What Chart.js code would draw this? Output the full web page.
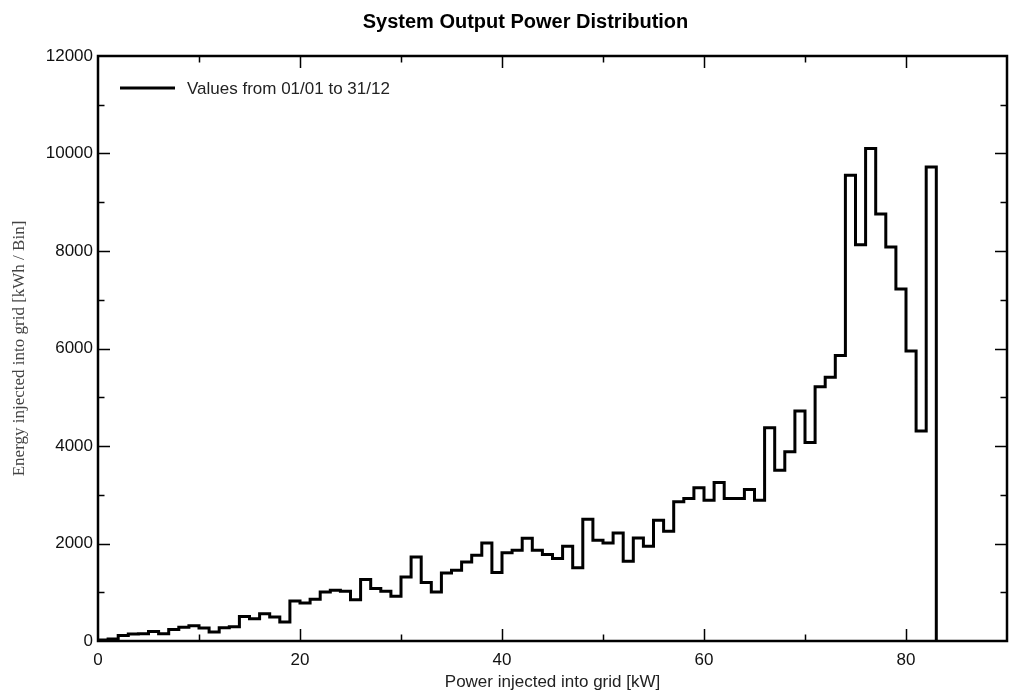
<!DOCTYPE html>
<html>
<head>
<meta charset="utf-8">
<script src="https://cdn.jsdelivr.net/npm/chart.js@4.4.1/dist/chart.umd.min.js"></script>
<style>
  html, body { margin: 0; padding: 0; background: #fff; }
  #wrap { width: 1009px; height: 694px; }
</style>
</head>
<body>
<div id="wrap"><canvas id="powerChart"></canvas></div>
<script>
// bin edges in kW (1 kW bins), last edge closes the final bin
const binEdges = [0, 1, 2, 3, 4, 5, 6, 7, 8, 9, 10, 11, 12, 13, 14, 15, 16, 17, 18, 19, 20,
  21, 22, 23, 24, 25, 26, 27, 28, 29, 30, 31, 32, 33, 34, 35, 36, 37, 38, 39, 40,
  41, 42, 43, 44, 45, 46, 47, 48, 49, 50, 51, 52, 53, 54, 55, 56, 57, 58, 59, 60,
  61, 62, 63, 64, 65, 66, 67, 68, 69, 70, 71, 72, 73, 74, 75, 76, 77, 78, 79, 80,
  81, 82, 83];
// energy per bin [kWh / Bin]
const energyPerBin = [20, 40, 115, 145, 150, 197, 150, 238, 280, 314,
  265, 183, 270, 290, 505, 458, 560, 492, 389, 820,
  780, 855, 1005, 1040, 1020, 848, 1260, 1075, 1020, 916,
  1313, 1724, 1198, 1005, 1396, 1450, 1621, 1759, 2012, 1403,
  1810, 1862, 2108, 1862, 1773, 1690, 1944, 1505, 2498, 2067,
  2012, 2217, 1635, 2115, 1944, 2478, 2252, 2854, 2924, 3142,
  2889, 3253, 2924, 2924, 3109, 2889, 4375, 3505, 3881, 4717,
  4074, 5217, 5410, 5854, 9552, 8128, 10101, 8759, 8080, 7218,
  5950, 4307, 9724];
const xTicks = [0, 20, 40, 60, 80];
const yTicks = [0, 2000, 4000, 6000, 8000, 10000, 12000];
const seriesLabel = 'Values from 01/01 to 31/12';
const chartTitle = 'System Output Power Distribution';

const stepPoints = binEdges.map((e, i) => ({ x: e, y: i < energyPerBin.length ? energyPerBin[i] : 0 }));

const sans = '"Liberation Sans", Arial, sans-serif';

// ticks pointing inward on all four sides, frame, legend and title
const frameTicks = {
  id: 'frameTicks',
  afterDatasetsDraw(chart) {
    const { ctx, chartArea: a, scales: { x, y } } = chart;
    ctx.save();
    ctx.strokeStyle = '#000';
    ctx.lineWidth = 1.5;
    ctx.beginPath();
    for (let v = x.min + 10; v < x.max; v += 10) {
      const px = Math.round(x.getPixelForValue(v)) + 0.5;
      const len = xTicks.includes(v) ? 12 : 6.5;
      ctx.moveTo(px, a.bottom); ctx.lineTo(px, a.bottom - len);
      ctx.moveTo(px, a.top); ctx.lineTo(px, a.top + len);
    }
    for (let v = y.min + 1000; v < y.max; v += 1000) {
      const py = Math.round(y.getPixelForValue(v)) + 0.5;
      const len = yTicks.includes(v) ? 12 : 6.5;
      ctx.moveTo(a.left, py); ctx.lineTo(a.left + len, py);
      ctx.moveTo(a.right, py); ctx.lineTo(a.right - len, py);
    }
    ctx.stroke();
    ctx.lineWidth = 2.5;
    ctx.strokeRect(a.left, a.top, a.right - a.left, a.bottom - a.top);
    ctx.restore();
  },
  afterDraw(chart) {
    const { ctx, chartArea: a } = chart;
    const ds = chart.data.datasets[0];
    const ly = a.top + 32;
    ctx.save();
    ctx.strokeStyle = ds.borderColor;
    ctx.lineWidth = 3;
    ctx.beginPath();
    ctx.moveTo(a.left + 22, ly);
    ctx.lineTo(a.left + 77, ly);
    ctx.stroke();
    ctx.fillStyle = '#222';
    ctx.font = '17px ' + sans;
    ctx.textBaseline = 'middle';
    ctx.fillText(ds.label, a.left + 89, ly + 1);

    // title sits a little right of the plot centre in the original
    ctx.fillStyle = '#000';
    ctx.font = 'bold 20px ' + sans;
    ctx.textAlign = 'center';
    ctx.fillText(chartTitle, (a.left + a.right) / 2 - 27, a.top - 34);
    ctx.restore();
  }
};

const chart = new Chart(document.getElementById('powerChart'), {
  type: 'line',
  data: {
    datasets: [{
      label: seriesLabel,
      data: stepPoints,
      stepped: 'before',
      borderColor: '#000',
      borderWidth: 3,
      pointRadius: 0,
      fill: false
    }]
  },
  options: {
    responsive: true,
    maintainAspectRatio: false,
    animation: false,
    devicePixelRatio: 1,
    layout: { padding: { left: 0, right: 2, top: 56, bottom: 0 } },
    plugins: {
      legend: { display: false },
      tooltip: { enabled: false },
      title: { display: false }
    },
    scales: {
      x: {
        type: 'linear',
        min: 0,
        max: 90,
        grid: { display: false, tickLength: 0 },
        border: { display: false },
        afterFit: s => { s.height = 53; },
        afterBuildTicks: s => { s.ticks = xTicks.map(v => ({ value: v })); },
        ticks: {
          color: '#111',
          padding: 9,
          maxRotation: 0,
          callback: v => String(v),
          font: { family: sans, size: 17 }
        },
        title: {
          display: true,
          text: 'Power injected into grid [kW]',
          color: '#222',
          font: { family: sans, size: 17 },
          padding: { top: 0, bottom: 1 }
        }
      },
      y: {
        min: 0,
        max: 12000,
        grid: { display: false, tickLength: 0 },
        border: { display: false },
        afterFit: s => { s.width = 98; },
        afterBuildTicks: s => { s.ticks = yTicks.map(v => ({ value: v })); },
        ticks: {
          color: '#111',
          padding: 5,
          callback: v => String(v),
          font: { family: sans, size: 17 }
        },
        title: {
          display: true,
          text: 'Energy injected into grid [kWh / Bin]',
          color: '#444',
          font: { family: '"Liberation Serif", "Times New Roman", serif', size: 17 },
          padding: { top: 9, bottom: 0 }
        }
      }
    }
  },
  plugins: [frameTicks]
});
</script>
</body>
</html>
